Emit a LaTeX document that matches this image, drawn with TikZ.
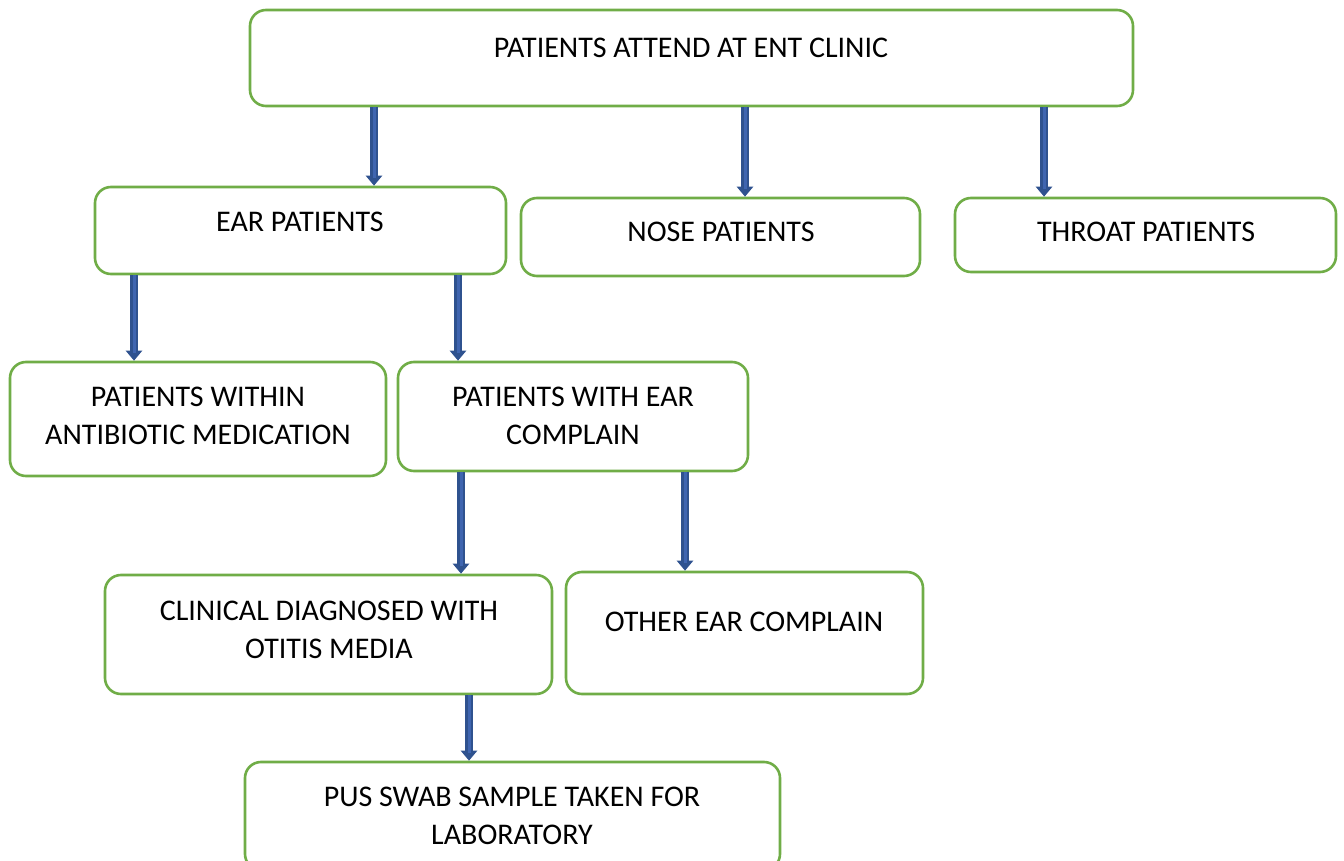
\documentclass[tikz,border=0pt]{standalone}
\usepackage{fontspec}
\setmainfont{Carlito}
\usetikzlibrary{arrows.meta}
\definecolor{boxgreen}{HTML}{70AD47}
\definecolor{arrowblue}{HTML}{3F65B0}
\definecolor{arrowdark}{HTML}{2F528F}
\tikzset{
	box/.style = {draw=boxgreen, line width=1.3pt, rounded corners=8pt, fill=white, inner sep=0pt},
	lbl/.style = {align=center, font=\fontsize{15}{19}\selectfont, inner sep=0pt},
	blk/.style = {arrowdark, line width=3.6pt, -{Triangle[width=8pt, length=5pt]},
		postaction={draw=arrowblue, line width=1.5pt, shorten >=4pt, -}}
}

\begin{document}
\begin{tikzpicture}[x=0.5pt, y=-0.5pt]
%page of 1344 x 861 px
\useasboundingbox (0,0) rectangle (1344,861);
%\draw [help lines, step=50] (0,0) grid (1344,861);

%boxes: name/centre x/centre y/width/height
\foreach \nm/\x/\y/\w/\h in {top/691.5/58/883/96, ear/300.5/230.5/411/87, nose/720.5/237/399/78,
	throat/1145.5/235/381/74, anti/198/419/376/114, earc/573/416.5/350/109,
	clin/328.5/634.5/447/119, other/744.5/633/357/122, pus/512.5/816/535/108}
	\node [box, minimum width=\w*0.5pt, minimum height=\h*0.5pt] (\nm) at (\x,\y) {};

%texts
\node [lbl] (topt) at (691,48) {PATIENTS ATTEND AT ENT CLINIC};
\node [lbl] (eart) at (300,222) {EAR PATIENTS};
\node [lbl] (noset) at (721,232) {NOSE PATIENTS};
\node [lbl] (throatt) at (1146,232) {THROAT PATIENTS};
\node [lbl] (antit) at (198,416) {PATIENTS WITHIN\\ANTIBIOTIC MEDICATION};
\node [lbl] (earct) at (573,416) {PATIENTS WITH EAR\\COMPLAIN};
\node [lbl] (clint) at (329,630) {CLINICAL DIAGNOSED WITH\\OTITIS MEDIA};
\node [lbl] (othert) at (744,622) {OTHER EAR COMPLAIN};
\node [lbl] (pust) at (512,816) {PUS SWAB SAMPLE TAKEN FOR\\LABORATORY};

%arrows: from/to/x
\foreach \a/\b/\x in {top/ear/374, top/nose/745, top/throat/1044, ear/anti/134, ear/earc/458,
	earc/clin/461, earc/other/685, clin/pus/469}
	\draw [blk] (\a.south -| \x,0) -- (\b.north -| \x,0);

\end{tikzpicture}
\end{document}
